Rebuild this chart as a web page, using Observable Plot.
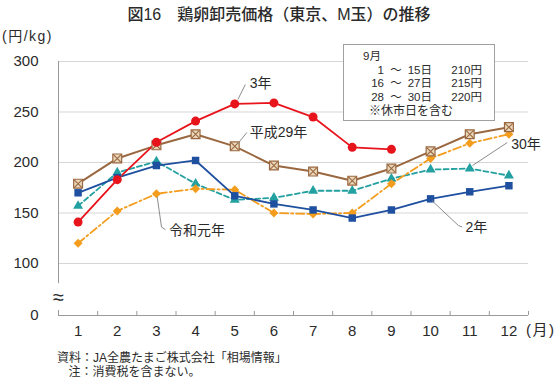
<!DOCTYPE html>
<html><head><meta charset="utf-8">
<script src="https://cdn.jsdelivr.net/npm/d3@7"></script>
<script src="https://cdn.jsdelivr.net/npm/@observablehq/plot@0.6"></script>
<style>
body{margin:0;background:#fff;}
#chart{width:558px;height:382px;overflow:hidden;}
</style></head><body><div id="chart"></div>
<script>
// ---- data ----
const months = [1,2,3,4,5,6,7,8,9,10,11,12];
const monthLabels = ["1","2","3","4","5","6","7","8","9","10","11","12"];
const seriesH29 = [179,204,217,228,216,197,191,182,194,211,228,235]; // 平成29年
const seriesH30 = [157,190,201,179,163,165,172,172,184,193,194,187]; // 30年
const seriesR1  = [120,152,169,174,173,150,149,150,179,204,219,228]; // 令和元年
const seriesR2  = [170,185,197,202,167,159,153,145,153,164,171,177]; // 2年
const seriesR3  = [141,183,220,241,258,259,245,215,213];             // 3年 (1-9月)
const yTickValues = [0,100,150,200,250,300];
const yGridValues = [100,150,200,250,300];
const yZeroPos = 48.5;   // where the broken axis draws "0"
const title = "図16　鶏卵卸売価格（東京、M玉）の推移";
const yUnit = "(円/kg)";
const xUnit = "(月)";
const noteHead = "9月";
const noteRows = [["1","15日","210円"],["16","27日","215円"],["28","30日","220円"]];
const noteFoot = "※休市日を含む";
const captions = ["資料：JA全農たまご株式会社「相場情報」","注：消費税を含まない。"];

// labels & leader lines (data coordinates)
const labels = [
  {text:"3年", x:5.38, y:278},
  {text:"平成29年", x:5.38, y:229.7},
  {text:"令和元年", x:3.32, y:132.7},
  {text:"2年", x:10.89, y:135.6},
  {text:"30年", x:12.06, y:217.8}
];
const leaders = [
  {x1:5.27,y1:277.2,x2:5.08,y2:262.4},
  {x1:5.31,y1:229.7,x2:5.07,y2:218.3},
  {x1:3.02,y1:166,x2:3.13,y2:136},
  {x1:3.13,y1:136,x2:3.23,y2:133.5},
  {x1:10.04,y1:162,x2:10.71,y2:137.6},
  {x1:10.71,y1:137.6,x2:10.81,y2:136.1},
  {x1:11.96,y1:219.8,x2:11.07,y2:197}
];

const rows = (vals) => vals.map((v,i)=>({m:months[i], v}));
const dH29 = rows(seriesH29), dH30 = rows(seriesH30), dR1 = rows(seriesR1), dR2 = rows(seriesR2), dR3 = rows(seriesR3);

const C = {red:"#e8141c", brown:"#9a6840", blue:"#1f4f9f", teal:"#23a0a0", orange:"#f49c1c", axis:"#9a9a9a", grid:"#d6d6d6", text:"#2a2a2a"};
const FONT = "'Liberation Sans','Noto Sans CJK JP',sans-serif";

const chart = Plot.plot({
  width:558, height:382,
  marginLeft:58, marginRight:30, marginTop:61, marginBottom:67,
  style:{fontFamily:FONT, color:C.text, background:"#fff"},
  x:{type:"linear", domain:[0.5,12.5]},
  y:{type:"linear", domain:[yZeroPos,300]},
  marks:[
    Plot.gridY(yGridValues, {stroke:C.grid, strokeOpacity:1}),
    Plot.ruleY([yZeroPos], {stroke:C.axis}),
    Plot.ruleX([0.5], {y1:yZeroPos, y2:300, stroke:C.axis}),
    Plot.ruleX(d3.range(0.5, 12.6, 1), {y1:yZeroPos, y2:yZeroPos+4, stroke:C.axis}),
    Plot.ruleX([0.5], {y1:53.5, y2:80, stroke:"white", strokeWidth:4}),
    Plot.text(["≈"], {x:0.5, y:66, text:d=>d, fontSize:20, fill:C.text}),
    Plot.axisY({ticks:yTickValues.map(v=>v===0?yZeroPos:v), tickFormat:d=>d===yZeroPos?"0":String(d), tickSize:0, tickPadding:20, fontSize:15, fill:C.text}),
    Plot.axisX({ticks:months, tickFormat:(d)=>monthLabels[d-1], tickSize:0, tickPadding:10, fontSize:15, fill:C.text}),
    // lines
    Plot.line(dH30, {x:"m", y:"v", stroke:C.teal, strokeWidth:1.8, strokeDasharray:"5,3"}),
    Plot.line(dR1, {x:"m", y:"v", stroke:C.orange, strokeWidth:1.8, strokeDasharray:"8,3,2,3"}),
    Plot.line(dR2, {x:"m", y:"v", stroke:C.blue, strokeWidth:1.8}),
    Plot.line(dH29, {x:"m", y:"v", stroke:C.brown, strokeWidth:2}),
    Plot.line(dR3, {x:"m", y:"v", stroke:C.red, strokeWidth:1.8}),
    // markers
    Plot.dot(dH30, {x:"m", y:"v", symbol:"triangle", r:3.7, fill:C.teal}),
    Plot.dot(dR1, {x:"m", y:"v", symbol:"diamond2", r:4, fill:C.orange}),
    Plot.dot(dR2, {x:"m", y:"v", symbol:"square", r:4.2, fill:C.blue}),
    Plot.dot(dH29, {x:"m", y:"v", symbol:"square", r:5, fill:"#ead8bc", stroke:C.brown, strokeWidth:1.2}),
    Plot.dot(dH29, {x:"m", y:"v", symbol:"times", r:3.6, stroke:C.brown, strokeWidth:1.1}),
    Plot.dot(dR3, {x:"m", y:"v", r:4.5, fill:C.red}),
    // annotations
    Plot.link(leaders, {x1:"x1", y1:"y1", x2:"x2", y2:"y2", stroke:"#8c8c8c", strokeWidth:1}),
    Plot.text(labels, {x:"x", y:"y", text:"text", textAnchor:"start", fontSize:14, fill:C.text})
  ]
});
document.getElementById("chart").appendChild(chart);

const svg = d3.select(chart);
svg.attr("font-family", FONT);
const addText = (sel, x, y, txt, size, anchor="start") =>
  sel.append("text").attr("x",x).attr("y",y).attr("dy","0.35em").attr("text-anchor",anchor)
     .attr("font-size",size).attr("fill",C.text).text(txt);

addText(svg, 279, 14, title, 16, "middle").attr("font-weight",500);
addText(svg, 2, 36, yUnit, 14).attr("letter-spacing","1.5px");
addText(svg, 526, 330, xUnit, 15).attr("letter-spacing","1.5px");

// note box
const g = svg.append("g");
g.append("rect").attr("x",343.5).attr("y",44.5).attr("width",151).attr("height",76).attr("fill","#fff").attr("stroke","#a0a0a0");
addText(g, 363, 56, noteHead, 11.5);
noteRows.forEach((r,i)=>{
  const y = 69.5 + i*13.6;
  addText(g, 384, y, r[0], 11.5, "end");
  addText(g, 396, y, "～", 11.5, "middle");
  addText(g, 432, y, r[1], 11.5, "end");
  addText(g, 482, y, r[2], 11.5, "end");
});
addText(g, 369, 110.5, noteFoot, 12);

// captions
addText(svg, 57, 358, captions[0], 12);
addText(svg, 68.5, 372, captions[1], 12);
</script></body></html>
